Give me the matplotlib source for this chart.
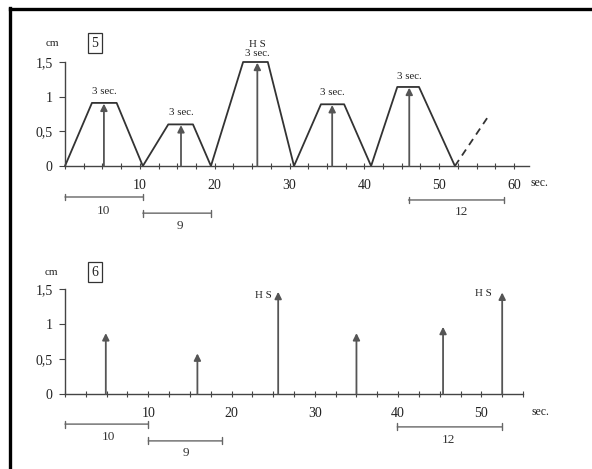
import matplotlib
matplotlib.use("Agg")
import matplotlib.pyplot as plt
from matplotlib.lines import Line2D
from matplotlib.ticker import MultipleLocator, FuncFormatter

plt.rcParams['font.family'] = ['Liberation Serif', 'DejaVu Serif']

# panel 5: trapezoid trace (time in sec, height in cm)
trace_t = [0, 3.6, 6.9, 10.4, 13.8, 17.1, 19.5, 23.8, 27.1, 30.6,
           34.2, 37.3, 40.9, 44.4, 47.3, 52.1]
trace_h = [0, 0.91, 0.91, 0, 0.6, 0.6, 0, 1.5, 1.5, 0,
           0.89, 0.89, 0, 1.14, 1.14, 0]
dash_t = [52.1, 56.4]
dash_h = [0, 0.69]
arrows5_t = [5.2, 15.5, 25.7, 35.7, 46.0]
arrows5_h = [0.9, 0.59, 1.49, 0.88, 1.13]
hold5_labels = ["3 sec.", "3 sec.", "H S\n3 sec.", "3 sec.", "3 sec."]
spans5 = [(0, 10.4, "10"), (10.4, 19.5, "9"), (45.9, 58.7, "12")]

# panel 6: impulses only
arrows6_t = [4.9, 15.9, 25.6, 35.0, 45.4, 52.5]
arrows6_h = [0.87, 0.58, 1.46, 0.87, 0.96, 1.45]
spans6 = [(0, 10, "10"), (10, 18.9, "9"), (39.9, 52.5, "12")]

W, H = 592, 469
fig = plt.figure(figsize=(W / 100, H / 100), dpi=100)

def make_ax(x0, x1, y0, y1, xmax):
    # pixel box -> figure fraction
    ax = fig.add_axes([x0 / W, (H - y0) / H, (x1 - x0) / W, (y0 - y1) / H])
    ax.set_xlim(0, xmax)
    ax.set_ylim(0, 1.5)
    for s in ['top', 'right']:
        ax.spines[s].set_visible(False)
    for s in ['left', 'bottom']:
        ax.spines[s].set_color('#444')
        ax.spines[s].set_linewidth(1.0)
    ax.patch.set_alpha(0)
    ax.xaxis.set_major_locator(MultipleLocator(2.5))
    ax.xaxis.set_major_formatter(FuncFormatter(
        lambda v, p: "%d" % v if v > 0 and abs(v % 10) < 1e-6 else ""))
    ax.set_yticks([0, 0.5, 1, 1.5])
    ax.set_yticklabels(["0", "0,5", "1", "1,5"])
    ax.tick_params(axis='x', direction='inout', length=4, width=0.8,
                   colors='#444', labelsize=10, pad=7, labelcolor='#222')
    ax.tick_params(axis='y', direction='out', length=4, width=0.8,
                   colors='#444', labelsize=10, pad=5, labelcolor='#222')
    return ax

def draw_arrow(ax, t, h):
    ax.annotate('', xy=(t, h), xytext=(t, 0),
                arrowprops=dict(arrowstyle='-|>', color='#555', lw=1.3,
                                mutation_scale=10, shrinkA=0, shrinkB=0))

def draw_span(ax, a, b, y, label, ly, lx):
    ax.annotate('', xy=(b, y), xytext=(a, y), annotation_clip=False,
                arrowprops=dict(arrowstyle='|-|, widthA=0.25, widthB=0.25',
                                color='#666', lw=1.0, shrinkA=0, shrinkB=0))
    ax.text(lx, ly, label, ha='center', va='center', fontsize=9.5,
            color='#333')

# ---- panel 5 ----
ax5 = make_ax(65, 529, 166, 62, 62)
ax5.plot(trace_t, trace_h, color='#333', lw=1.3, clip_on=False)
ax5.plot(dash_t, dash_h, color='#333', lw=1.3, ls=(0, (4, 3)), clip_on=False)
label_y5 = [1.01, 0.7, 1.56, 0.99, 1.23]
for t, h, lab, ly in zip(arrows5_t, arrows5_h, hold5_labels, label_y5):
    draw_arrow(ax5, t, h)
    ax5.text(t, ly, lab, ha='center', va='bottom', fontsize=7.8,
             color='#222', linespacing=0.95)
ax5.text(62.2, -0.24, "sec.", ha='left', va='center', fontsize=8.5, color='#222')
ax5.text(-1.7, 1.77, "cm", ha='center', va='center', fontsize=8, color='#222')
ax5.text(4.0, 1.77, "5", ha='center', va='center', fontsize=10, color='#222',
         bbox=dict(boxstyle='square,pad=0.25', fc='white', ec='#333', lw=0.9))
span_y5 = [-0.447, -0.68, -0.49]
lab_pos5 = [(5.2, -0.65), (15.4, -0.86), (53.0, -0.66)]
for (a, b, lab), y, (lx, ly) in zip(spans5, span_y5, lab_pos5):
    draw_span(ax5, a, b, y, lab, ly, lx)

# ---- panel 6 ----
ax6 = make_ax(65, 523, 394, 289, 55)
for t, h in zip(arrows6_t, arrows6_h):
    draw_arrow(ax6, t, h)
ax6.text(23.8, 1.41, "H S", ha='center', va='center', fontsize=7.8, color='#222')
ax6.text(50.3, 1.44, "H S", ha='center', va='center', fontsize=7.8, color='#222')
ax6.text(56.0, -0.25, "sec.", ha='left', va='center', fontsize=8.5, color='#222')
ax6.text(-1.6, 1.74, "cm", ha='center', va='center', fontsize=8, color='#222')
ax6.text(3.6, 1.74, "6", ha='center', va='center', fontsize=10, color='#222',
         bbox=dict(boxstyle='square,pad=0.25', fc='white', ec='#333', lw=0.9))
span_y6 = [-0.43, -0.67, -0.47]
lab_pos6 = [(5.2, -0.61), (14.5, -0.84), (46.1, -0.66)]
for (a, b, lab), y, (lx, ly) in zip(spans6, span_y6, lab_pos6):
    draw_span(ax6, a, b, y, lab, ly, lx)

# scan frame (top and left edges)
fig.add_artist(Line2D([9.5 / W, 1], [1 - 9.5 / H, 1 - 9.5 / H],
                      transform=fig.transFigure, color='black', lw=2.4))
fig.add_artist(Line2D([9.5 / W, 9.5 / W], [0, 1 - 8.3 / H],
                      transform=fig.transFigure, color='black', lw=2.4))

fig.savefig("out.png", dpi=100)
